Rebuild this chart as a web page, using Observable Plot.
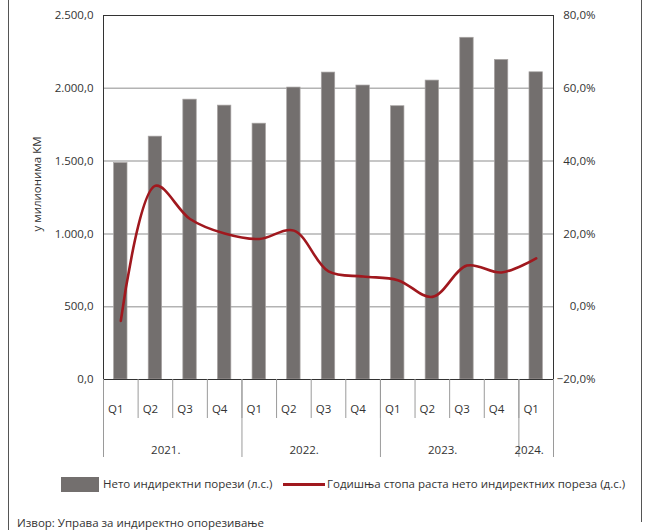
<!DOCTYPE html>
<html>
<head>
<meta charset="utf-8">
<script src="https://cdn.jsdelivr.net/npm/d3@7"></script>
<script src="https://cdn.jsdelivr.net/npm/@observablehq/plot@0.6"></script>
<style>
  html, body { margin: 0; padding: 0; background: #fff; }
  #wrap { position: relative; width: 651px; height: 530px; overflow: hidden; font-family: "Open Sans", sans-serif; color: #333; }
  #chart { position: absolute; left: 0; top: 0; }
  .border { position: absolute; top: 0; width: 1px; background: #555; }
  .leg { position: absolute; font-size: 11.5px; line-height: 14px; white-space: nowrap; }
  #ylab { position: absolute; left: 37px; top: 184px; font-size: 11.5px; line-height: 14px; white-space: nowrap; transform: translate(-50%, -50%) rotate(-90deg); }
</style>
</head>
<body>
<div id="wrap">
  <div class="border" style="left:8px;height:530px;"></div>
  <div class="border" style="left:641px;height:522px;"></div>
  <div id="chart"></div>
  <div id="ylab">у милионима КМ</div>
  <div style="position:absolute;left:61px;top:477px;width:38px;height:15px;background:#736f6e;"></div>
  <div class="leg" style="left:103px;top:477px;">Нето индиректни порези (л.с.)</div>
  <div style="position:absolute;left:283px;top:483px;width:42px;height:3px;background:#a0181e;"></div>
  <div class="leg" style="left:327px;top:477px;">Годишња стопа раста нето индиректних пореза (д.с.)</div>
  <div class="leg" style="left:17px;top:516px;">Извор: Управа за индиректно опорезивање</div>
</div>
<script>
// ---- data ----
const quarters = ["Q1","Q2","Q3","Q4","Q1","Q2","Q3","Q4","Q1","Q2","Q3","Q4","Q1"];
const years = ["2021.","2022.","2023.","2024."];
const yearStart = [0, 4, 8, 12];
const taxes = [1487, 1668, 1922, 1881, 1757, 2005, 2108, 2019, 1877, 2053, 2347, 2195, 2110];
const growth = [-3.9, 33.2, 24.1, 20.1, 18.6, 20.9, 9.7, 8.3, 7.3, 2.7, 11.3, 9.4, 13.3];
const leftTicks = [0, 500, 1000, 1500, 2000, 2500];
const rightTicks = [-20, 0, 20, 40, 60, 80];

// ---- derived ----
const n = quarters.length;
const data = quarters.map((q, i) => ({i, q, tax: taxes[i], g: growth[i]}));
const pctToLeft = p => (p + 20) * 25;          // -20..80 % mapped onto 0..2500
const leftToPct = v => v / 25 - 20;
const loc = d3.formatLocale({decimal: ",", thousands: ".", grouping: [3]});
const fmtLeft = loc.format(",.1f");
const fmtPct = v => loc.format(".1f")(leftToPct(v)) + "%";
const sepAll = d3.range(n + 1).map(i => i - 0.5);
const sepYear = yearStart.map(i => i - 0.5).concat([n - 0.5]);
const yearCenters = yearStart.map((s, k) => (s + (k + 1 < yearStart.length ? yearStart[k + 1] : n) - 1) / 2);

const chart = Plot.plot({
  width: 651,
  height: 462,
  marginLeft: 103,
  marginRight: 98,
  marginTop: 15,
  marginBottom: 83,
  style: {fontFamily: "Open Sans, sans-serif", fontSize: "11.5px", color: "#333", background: "transparent"},
  x: {type: "linear", domain: [-0.5, n - 0.5]},
  y: {domain: [0, 2500]},
  marks: [
    Plot.ruleY([500, 1000, 1500, 2000], {stroke: "#b3b3b3", strokeWidth: 1.5}),
    Plot.rectY(data, {x1: d => d.i - 0.5, x2: d => d.i + 0.5, y: "tax", insetLeft: 10.6, insetRight: 10.6, fill: "#736f6e", stroke: "#a8a4a3", strokeWidth: 0.7}),
    Plot.line(data, {x: "i", y: d => pctToLeft(d.g), stroke: "#a0181e", strokeWidth: 2.6, curve: "catmull-rom"}),
    Plot.frame({stroke: "#333", strokeWidth: 1}),
    Plot.axisY({anchor: "left", ticks: leftTicks, tickFormat: fmtLeft, tickSize: 0, tickPadding: 10, label: null, fill: "#333"}),
    Plot.axisY({anchor: "right", ticks: rightTicks.map(pctToLeft), tickFormat: fmtPct, tickSize: 0, tickPadding: 0, textAnchor: "end", dx: 42, label: null, fill: "#333"}),
    Plot.axisX({ticks: sepAll, tickSize: 39, tickFormat: () => "", stroke: "#9a9a9a", label: null}),
    Plot.axisX({ticks: sepYear, tickSize: 78, tickFormat: () => "", stroke: "#9a9a9a", label: null}),
    Plot.axisX({ticks: d3.range(n), tickSize: 0, tickPadding: 25, tickFormat: d => quarters[Math.round(d)], dx: -5, label: null, fill: "#333"}),
    Plot.axisX({ticks: yearCenters, tickSize: 0, tickPadding: 66, tickFormat: d => years[yearCenters.indexOf(d)], dx: -7, label: null, fill: "#333"})
  ]
});
document.getElementById("chart").appendChild(chart);
</script>
</body>
</html>
